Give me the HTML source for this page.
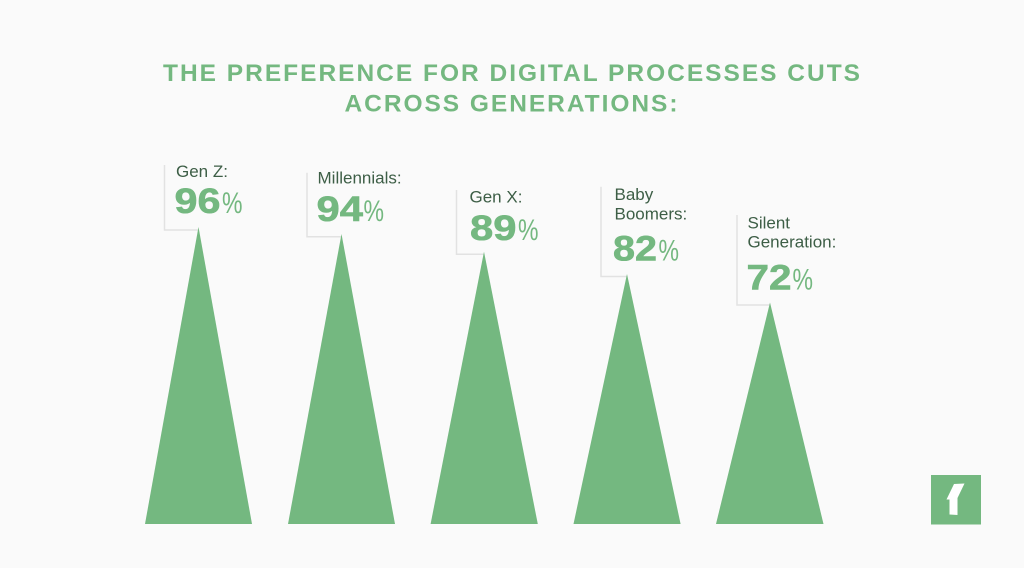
<!DOCTYPE html>
<html>
<head>
<meta charset="utf-8">
<style>
  html,body{margin:0;padding:0;background:#fafafa;}
  svg{display:block;}
  .t{font-family:"Liberation Sans",sans-serif;font-weight:bold;fill:#74b880;font-size:24.5px;}
  .lab{font-family:"Liberation Sans",sans-serif;fill:#3d5e46;font-size:17px;}
  .num{font-family:"Liberation Sans",sans-serif;font-weight:bold;fill:#74b880;stroke:#74b880;stroke-width:0.6;font-size:35px;}
  .pc{font-family:"Liberation Sans",sans-serif;fill:#74b880;font-size:30px;}
  .br{fill:none;stroke:#e2e2e2;stroke-width:1.5;}
  .tri{fill:#74b880;}
</style>
</head>
<body>
<svg width="1024" height="568" viewBox="0 0 1024 568" xmlns="http://www.w3.org/2000/svg">
  <rect width="1024" height="568" fill="#fafafa"/>

  <text class="t" x="163" y="81" textLength="697" lengthAdjust="spacing">THE PREFERENCE FOR DIGITAL PROCESSES CUTS</text>
  <text class="t" x="344.5" y="111.7" textLength="333" lengthAdjust="spacing">ACROSS GENERATIONS:</text>

  <!-- Gen Z -->
  <polyline class="br" points="164.5,165 164.5,230 198.5,230"/>
  <polygon class="tri" points="198.5,227 252,524 145,524"/>
  <text class="lab" x="176" y="177">Gen Z:</text>
  <text class="num" x="174.5" y="213" textLength="46" lengthAdjust="spacingAndGlyphs">96</text>
  <text class="pc" x="222" y="213" textLength="20.5" lengthAdjust="spacingAndGlyphs">%</text>

  <!-- Millennials -->
  <polyline class="br" points="307,172.7 307,236.7 341.5,236.7"/>
  <polygon class="tri" points="341.5,234 395,524 288,524"/>
  <text class="lab" x="317.5" y="183.5">Millennials:</text>
  <text class="num" x="316.5" y="221" textLength="46.5" lengthAdjust="spacingAndGlyphs">94</text>
  <text class="pc" x="363.5" y="221" textLength="20.5" lengthAdjust="spacingAndGlyphs">%</text>

  <!-- Gen X -->
  <polyline class="br" points="456.5,190 456.5,254.3 484,254.3"/>
  <polygon class="tri" points="484,251.7 537.8,524 430.6,524"/>
  <text class="lab" x="469.5" y="202.5">Gen X:</text>
  <text class="num" x="470" y="240" textLength="46.5" lengthAdjust="spacingAndGlyphs">89</text>
  <text class="pc" x="518" y="240" textLength="20.5" lengthAdjust="spacingAndGlyphs">%</text>

  <!-- Baby Boomers -->
  <polyline class="br" points="601,186.7 601,276.5 627,276.5"/>
  <polygon class="tri" points="627,274 680.6,524 573.5,524"/>
  <text class="lab" x="614.5" y="200">Baby</text>
  <text class="lab" x="614.5" y="219.5">Boomers:</text>
  <text class="num" x="613" y="260.5" textLength="44" lengthAdjust="spacingAndGlyphs">82</text>
  <text class="pc" x="658.5" y="260.5" textLength="20.5" lengthAdjust="spacingAndGlyphs">%</text>

  <!-- Silent Generation -->
  <polyline class="br" points="737,215 737,305 770,305"/>
  <polygon class="tri" points="770,302.5 823.5,524 716,524"/>
  <text class="lab" x="747.5" y="228.5">Silent</text>
  <text class="lab" x="747.5" y="247.5">Generation:</text>
  <text class="num" x="746.5" y="289.5" textLength="45" lengthAdjust="spacingAndGlyphs">72</text>
  <text class="pc" x="792.5" y="289.5" textLength="20.5" lengthAdjust="spacingAndGlyphs">%</text>

  <!-- logo -->
  <rect x="931" y="475" width="50" height="49.5" fill="#74b880"/>
  <polygon fill="#ffffff" points="954,484 964.5,483.5 957.5,498 957.5,515 949.5,514.5 949.5,499.5 946.5,499.5"/>
</svg>
</body>
</html>
